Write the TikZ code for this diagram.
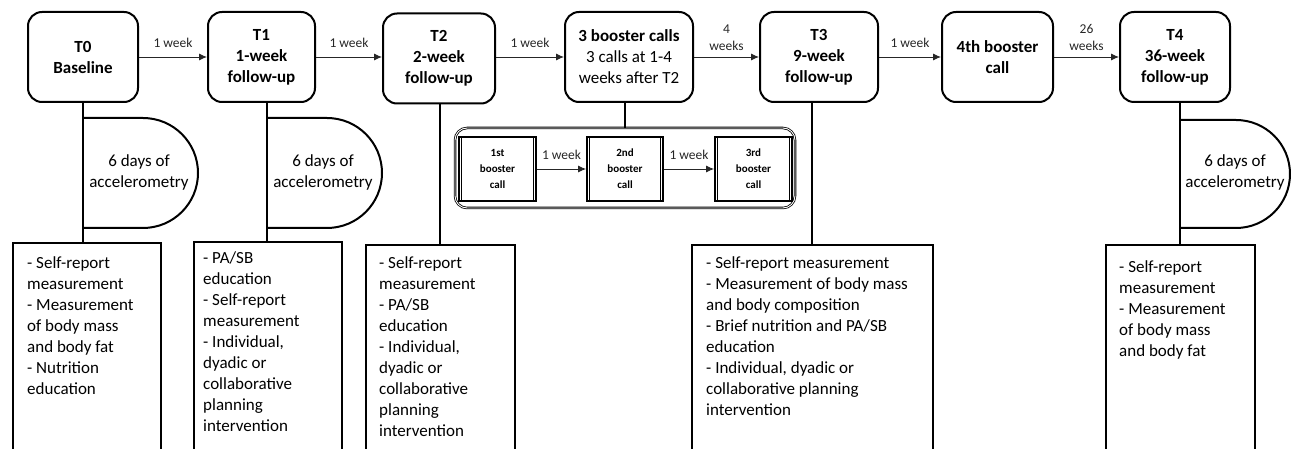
\documentclass[tikz,border=0pt]{standalone}
\usepackage{fontspec}
\setmainfont{Carlito}
\usetikzlibrary{arrows.meta}
\tikzset{
    phase/.style={draw, line width=2pt, rounded corners=14pt, minimum height=90pt,
                  align=center, inner sep=2pt, font=\fontsize{17}{21}\selectfont\bfseries},
    subcall/.style={draw, line width=1.8pt, minimum width=77pt, minimum height=64pt,
                    align=center, font=\fontsize{11}{16}\selectfont\bfseries},
    group/.style={draw, double, line width=0.8pt, double distance=0.9pt,
                  rounded corners=12pt, minimum width=340pt, minimum height=80pt},
    infobox/.style={draw, line width=2pt, anchor=north west, minimum height=260pt},
    infotext/.style={anchor=north west, align=left, inner sep=0pt,
                     font=\fontsize{17}{21}\selectfont},
    acctext/.style={align=center, font=\fontsize{17}{21}\selectfont},
    stem/.style={line width=2.6pt},
    dshape/.style={line width=2pt},
    arr/.style={-{Latex[length=8pt,width=7pt]}, line width=0.9pt, black!85},
    lbl/.style={font=\fontsize{13.5}{17}\selectfont, text=black!85, inner sep=1pt},
}

\begin{document}
\begin{tikzpicture}[x=1pt, y=-1pt]
    \useasboundingbox (0,0) rectangle (1291,449);
    \clip (0,0) rectangle (1291,449);

    % Time points
    \node[phase, minimum width=110pt] (t0) at (83,57) {T0\\Baseline};
    \node[phase, minimum width=107pt] (t1) at (261.5,57) {T1\\1-week\\follow-up};
    \node[phase, minimum width=112pt] (t2) at (439,58.5) {T2\\2-week\\follow-up};
    \node[phase, minimum width=128pt] (bc) at (629,57) {3 booster calls\\\mdseries 3 calls at 1-4\\\mdseries weeks after T2};
    \node[phase, minimum width=118pt] (t3) at (819,57) {T3\\9-week\\follow-up};
    \node[phase, minimum width=111pt] (b4th) at (997.5,57) {4th booster\\call};
    \node[phase, minimum width=110pt] (t4) at (1175,57) {T4\\36-week\\follow-up};

    % Arrows between time points
    \draw[arr] (t0.east) -- (t1.west) node[lbl, midway, above=8pt] {1 week};
    \draw[arr] (t1.east) -- (t1.east -| t2.west) node[lbl, midway, above=8pt] {1 week};
    \draw[arr] (t2.east |- bc.west) -- (bc.west) node[lbl, midway, above=8pt] {1 week};
    \draw[arr] (bc.east) -- (t3.west) node[lbl, midway, above=5pt, align=center] {4\\weeks};
    \draw[arr] (t3.east) -- (b4th.west) node[lbl, midway, above=8pt] {1 week};
    \draw[arr] (b4th.east) -- (t4.west) node[lbl, midway, above=5pt, align=center] {26\\weeks};

    % Booster calls
    \node[group] (grp) at (625,168) {};
    \node[subcall] (c1) at (497.5,169) {1st\\booster\\call};
    \node[subcall, minimum width=76pt] (c2) at (625,169) {2nd\\booster\\call};
    \node[subcall] (c3) at (753.5,169) {3rd\\booster\\call};
    \foreach \n in {c1,c2,c3} {
        \draw[line width=0.6pt] ([xshift=3.5pt]\n.north west) -- ([xshift=3.5pt]\n.south west);
        \draw[line width=0.6pt] ([xshift=-3.5pt]\n.north east) -- ([xshift=-3.5pt]\n.south east);
    }
    \draw[arr] (c1.east) -- (c2.west) node[lbl, midway, above=8pt] {1 week};
    \draw[arr] (c2.east) -- (c3.west) node[lbl, midway, above=8pt] {1 week};
    \draw[stem] (bc.south -| grp.north) -- (grp.north);

    % Measurement boxes
    \node[infobox, minimum width=148pt] (i0) at (12,242) {};
    \node[infobox, minimum width=148pt] (i1) at (193,241) {};
    \node[infobox, minimum width=149pt] (i2) at (365,244) {};
    \node[infobox, minimum width=241pt] (i3) at (691,244) {};
    \node[infobox, minimum width=149pt] (i4) at (1105,244) {};

    \node[infotext] (x0) at ([xshift=15pt, yshift=-14.5pt]i0.north west)
        {- Self-report\\measurement\\- Measurement\\of body mass\\and body fat\\- Nutrition\\education};
    \node[infotext] (x1) at ([xshift=10pt, yshift=-10.5pt]i1.north west)
        {- PA/SB\\education\\- Self-report\\measurement\\- Individual,\\dyadic or\\collaborative\\planning\\intervention};
    \node[infotext] (x2) at ([xshift=14pt, yshift=-12.5pt]i2.north west)
        {- Self-report\\measurement\\- PA/SB\\education\\- Individual,\\dyadic or\\collaborative\\planning\\intervention};
    \node[infotext] (x3) at ([xshift=15pt, yshift=-12.5pt]i3.north west)
        {- Self-report measurement\\- Measurement of body mass\\and body composition\\- Brief nutrition and PA/SB\\education\\- Individual, dyadic or\\collaborative planning\\intervention};
    \node[infotext] (x4) at ([xshift=14pt, yshift=-16.5pt]i4.north west)
        {- Self-report\\measurement\\- Measurement\\of body mass\\and body fat};

    % Stems
    \coordinate (k0) at (83,118);
    \coordinate (k1) at (267,118);
    \coordinate (k2) at (440,118);
    \coordinate (k3) at (812,118);
    \coordinate (k4) at (1180,120);
    \draw[stem] (t0.south -| k0) -- (i0.north -| k0);
    \draw[stem] (t1.south -| k1) -- (i1.north -| k1);
    \draw[stem] (t2.south -| k2) -- (i2.north -| k2);
    \draw[stem] (t3.south -| k3) -- (i3.north -| k3);
    \draw[stem] (t4.south -| k4) -- (i4.north -| k4);

    % Accelerometry
    \draw[dshape] (k0) -- ++(60,0) arc[start angle=90, end angle=-90, radius=55pt] -- ++(-60,0);
    \draw[dshape] (k1) -- ++(60,0) arc[start angle=90, end angle=-90, radius=55pt] -- ++(-60,0);
    \draw[dshape] (k4) -- ++(56,0) arc[start angle=90, end angle=-90, radius=54pt] -- ++(-56,0);
    \node[acctext] (a0) at (139,172) {6 days of\\accelerometry};
    \node[acctext] (a1) at (323,172) {6 days of\\accelerometry};
    \node[acctext] (a4) at (1235,172) {6 days of\\accelerometry};
\end{tikzpicture}
\end{document}
